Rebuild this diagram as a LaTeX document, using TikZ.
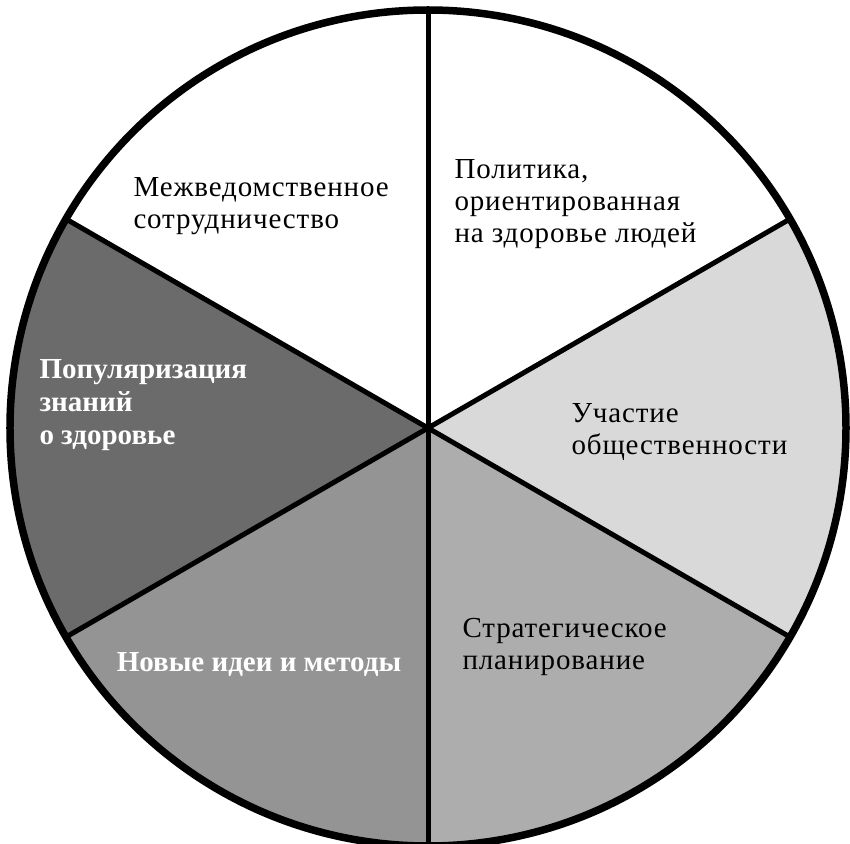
\documentclass[tikz,border=0pt]{standalone}
\usepackage{fontspec}
\setmainfont{Liberation Serif}
\begin{document}
\begin{tikzpicture}[x=1pt,y=1pt,
    lbl/.style={font=\fontsize{29}{32}\selectfont\addfontfeature{LetterSpace=3}, align=left, anchor=west},
    wlbl/.style={font=\fontsize{29}{33}\selectfont\bfseries, align=left, text=white}]
    \useasboundingbox (-428,-415) rectangle (422,428);
    \coordinate (c) at (0,0);

    % shaded sectors
    \fill[black!15] (c) -- (-30:418) arc (-30:30:418) -- cycle;
    \fill[black!32] (c) -- (-90:418) arc (-90:-30:418) -- cycle;
    \fill[black!42] (c) -- (210:418) arc (210:270:418) -- cycle;
    \fill[black!58] (c) -- (150:418) arc (150:210:418) -- cycle;

    % spokes
    \foreach \a in {90,30,-30,-90,210,150}
        \draw[line width=5] (c) -- (\a:418);

    % rim
    \draw[line width=7.5] (c) circle (418);

    % labels
    \node[lbl] (mezh) at (-298,222) {Межведомственное\\сотрудничество};
    \node[lbl] (polit) at (23,224) {Политика,\\ориентированная\\на здоровье людей};
    \node[lbl] (uchast) at (140,-4) {Участие\\общественности};
    \node[lbl] (strat) at (31,-219) {Стратегическое\\планирование};
    \node[wlbl] (novye) at (-169,-237) {Новые идеи и методы};
    \node[wlbl, anchor=west] (popul) at (-392,23) {Популяризация\\знаний\\о здоровье};
\end{tikzpicture}
\end{document}
